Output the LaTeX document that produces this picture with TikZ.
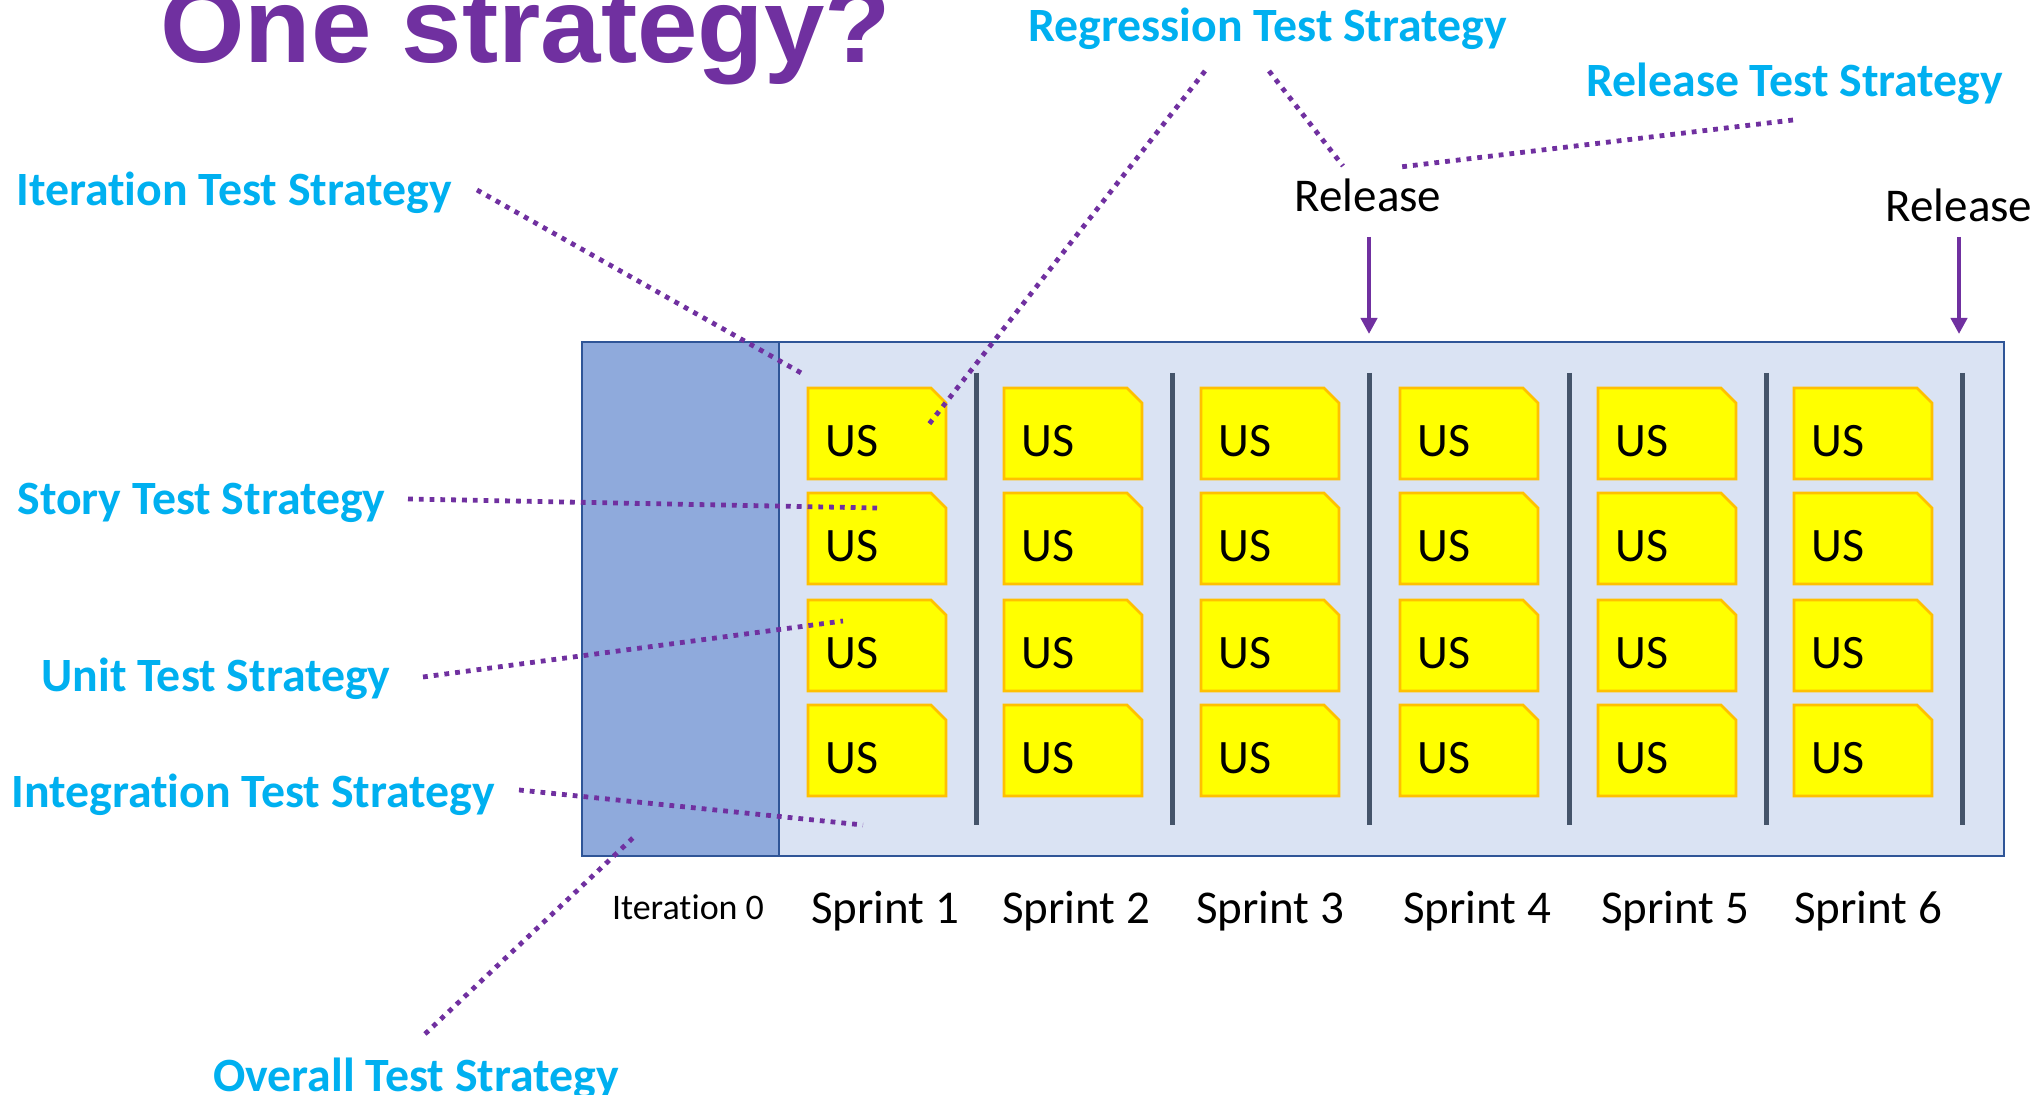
\documentclass[tikz,border=0pt]{standalone}
\usepackage{fontspec}
\setmainfont{Carlito}[Ligatures=NoCommon]
\newfontfamily\titlefont{Liberation Sans}
\usetikzlibrary{arrows.meta}
\definecolor{lblue}{HTML}{00B0F0}
\definecolor{purp}{HTML}{7030A0}
\definecolor{boxedge}{HTML}{2F5597}
\definecolor{iterfill}{HTML}{8FAADC}
\definecolor{sprintfill}{HTML}{DAE3F3}
\definecolor{sepcol}{HTML}{44546A}
\definecolor{cardedge}{HTML}{FFC000}
\definecolor{cardfill}{HTML}{FFFF00}
\begin{document}
\begin{tikzpicture}[x=0.5pt,y=-0.5pt,
  strat/.style={text=lblue, font=\bfseries\fontsize{23.9}{28}\selectfont, inner sep=0pt, anchor=base west},
  blk/.style={text=black, font=\fontsize{23.5}{28}\selectfont, inner sep=0pt, anchor=base},
  ustext/.style={text=black, font=\fontsize{24}{28}\selectfont, inner sep=0pt, anchor=base west},
  card/.style={draw=cardedge, fill=cardfill, line width=1.3pt, line join=miter},
  boxline/.style={draw=boxedge, line width=1.4pt},
  sepline/.style={draw=sepcol, line width=2.5pt},
  dotline/.style={draw=purp, line width=2.4pt, dash pattern=on 2.4pt off 3pt},
  relarrow/.style={draw=purp, line width=2pt, -{Triangle[width=8pt,length=8pt]}}
]
\useasboundingbox (0,0) rectangle (2040,1095);
\clip (0,0) rectangle (2040,1095);
\fill[white] (0,0) rectangle (2040,1095);

% title
\node[anchor=base west, inner sep=0pt, text=purp, xscale=1.025,
  font=\titlefont\bfseries\fontsize{53}{60}\selectfont] (title) at (160,63) {One strategy?};

% main box
\draw[boxline, fill=sprintfill] (582,342) rectangle (2004,856);
\draw[boxline, fill=iterfill] (582,342) rectangle (779,856);

% separators
\foreach \sx in {976,1172,1369,1569,1766,1962}
  \draw[sepline] (\sx,373) -- (\sx,825);

% cards
\foreach \cx [count=\ci] in {808,1004,1201,1400,1598,1794} {
  \foreach \ry [count=\ri] in {388,493,600,705} {
    \draw[card] (\cx,\ry) -- ++(123,0) -- ++(15,15) -- ++(0,76) -- ++(-138,0) -- cycle;
    \node[ustext] (us\ci-\ri) at (\cx+17,\ry+69) {US};
  }
}

% labels under box
\node[blk, font=\fontsize{18}{22}\selectfont] (it0) at (688,919) {Iteration 0};
\node[blk] (sp1) at (885,923) {Sprint 1};
\node[blk] (sp2) at (1076,923) {Sprint 2};
\node[blk] (sp3) at (1270,923) {Sprint 3};
\node[blk] (sp4) at (1477,923) {Sprint 4};
\node[blk] (sp5) at (1675,923) {Sprint 5};
\node[blk] (sp6) at (1868,923) {Sprint 6};

% release labels and arrows
\node[blk] (rel1) at (1368,212) {Release};
\node[blk] (rel2) at (1959,222) {Release};
\coordinate (r1top) at (1369,237);
\coordinate (r1bot) at (1369,334);
\coordinate (r2top) at (1959,237);
\coordinate (r2bot) at (1959,334);
\draw[relarrow] (r1top) -- (r1bot);
\draw[relarrow] (r2top) -- (r2bot);

% strategy labels
\node[strat] (regr) at (1028,42) {Regression Test Strategy};
\node[strat] (relts) at (1586,97) {Release Test Strategy};
\node[strat] (iter) at (16,206) {Iteration Test Strategy};
\node[strat] (story) at (17,515) {Story Test Strategy};
\node[strat] (unit) at (41,692) {Unit Test Strategy};
\node[strat] (integ) at (11,807) {Integration Test Strategy};
\node[strat] (overall) at (213,1091) {Overall Test Strategy};

% dotted connectors
\coordinate (itA) at (477,190);  \coordinate (itB) at (803,374);
\coordinate (rgA) at (1205,71);  \coordinate (rgB) at (926,428);
\coordinate (rhA) at (1269,71);  \coordinate (rhB) at (1343,166);
\coordinate (rtA) at (1793,120); \coordinate (rtB) at (1400,167);
\coordinate (stA) at (408,499);  \coordinate (stB) at (877,508);
\coordinate (unA) at (423,677);  \coordinate (unB) at (843,621);
\coordinate (inA) at (519,790);  \coordinate (inB) at (863,825);
\coordinate (ovA) at (425,1034); \coordinate (ovB) at (635,836);
\draw[dotline] (itA) -- (itB);
\draw[dotline] (rgA) -- (rgB);
\draw[dotline] (rhA) -- (rhB);
\draw[dotline] (rtA) -- (rtB);
\draw[dotline] (stA) -- (stB);
\draw[dotline] (unA) -- (unB);
\draw[dotline] (inA) -- (inB);
\draw[dotline] (ovA) -- (ovB);
\end{tikzpicture}
\end{document}
